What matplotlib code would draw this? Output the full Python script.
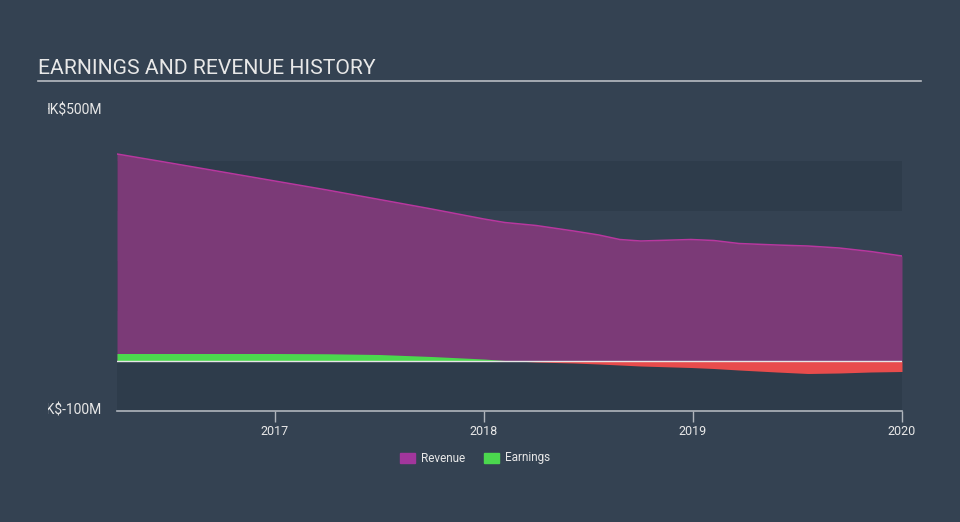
import matplotlib
matplotlib.use("Agg")
import matplotlib.pyplot as plt
from matplotlib.patches import Rectangle
from matplotlib.transforms import Bbox, TransformedBbox
import numpy as np

plt.rcParams['font.family'] = ['Roboto', 'DejaVu Sans']

# ---- data (HK$ millions) ----
dates = [2016.245, 2016.5, 2016.75, 2017.0, 2017.25, 2017.5, 2017.75, 2018.0,
         2018.1, 2018.25, 2018.43, 2018.55, 2018.65, 2018.75, 2018.99, 2019.1,
         2019.22, 2019.4, 2019.55, 2019.7, 2019.85, 2020.0]
revenue = [414, 396, 378, 360, 342, 323, 304, 284,
           277, 271, 260, 252, 243, 240, 243, 241,
           235, 232, 230, 226, 219, 210]
earnings = [15, 15, 15, 15, 14.5, 13, 9, 4,
            1, -2, -4, -6, -8, -10, -13, -15,
            -18, -22, -25, -24, -22, -21]

yticks = [-100, 500]
ytick_labels = ["HK$-100M", "HK$500M"]
xticks = [2017, 2018, 2019, 2020]
xtick_labels = ["2017", "2018", "2019", "2020"]
title = "EARNINGS AND REVENUE HISTORY"
series_names = ["Revenue", "Earnings"]

BG = "#344252"
BAND = "#2e3c4b"
REV_FILL = "#7b3a77"
REV_LINE = "#b8379f"
GREEN = "#4bd84e"
RED = "#e84c4c"
TEXT = "#e8e8e8"

W, H = 960, 522
fig = plt.figure(figsize=(W / 100, H / 100), dpi=100, facecolor=BG)
ax = fig.add_axes([117 / W, 1 - 411 / H, (902 - 117) / W, 300 / H])
ax.set_facecolor(BG)
ax.set_xlim(dates[0], dates[-1])
ax.set_ylim(-100, 500)

# alternating bands
for lo in range(-100, 500, 200):
    ax.axhspan(lo, lo + 100, color=BAND, lw=0, zorder=0)

d = np.array(dates)
r = np.array(revenue)
e = np.array(earnings)
ax.fill_between(d, 0, r, color=REV_FILL, lw=0, zorder=1)
ax.plot(d, r, color=REV_LINE, lw=1.1, zorder=3)

# earnings: fine interpolation for colour split
fd = np.linspace(d[0], d[-1], 800)
fe = np.interp(fd, d, e)
ax.fill_between(fd, 0, fe, where=fe >= 0, color=GREEN, lw=0, zorder=2, interpolate=True)
ax.fill_between(fd, 0, fe, where=fe <= 0, color=RED, lw=0, zorder=2, interpolate=True)
ax.axhline(0, color="#e6e6e6", lw=1, zorder=4)

for s in ["top", "right", "left"]:
    ax.spines[s].set_visible(False)
ax.spines["bottom"].set_color("#b0b6bd")
ax.spines["bottom"].set_linewidth(1.2)
ax.set_yticks([])
ax.set_xticks(xticks)
ax.set_xticklabels(xtick_labels)
ax.tick_params(axis="x", colors="#b0b6bd", length=8, width=1, labelcolor=TEXT,
               labelsize=9, pad=2)

# y labels, clipped at left edge like the reference
clipbox = TransformedBbox(Bbox([[48 / W, 0], [1, 1]]), fig.transFigure)
for v, lab in zip(yticks, ytick_labels):
    y = (1 - 411 / H) + (v + 100) / 600 * 300 / H
    t = fig.text(102 / W, y, lab, ha="right", va="center", color=TEXT, fontsize=10)
    t.set_clip_box(clipbox)
    t.set_clip_on(True)

# title and underline
fig.text(38 / W, 1 - 68 / H, title, ha="left", va="center", color=TEXT, fontsize=15.2)
fig.add_artist(plt.Line2D([38 / W, 921 / W], [1 - 81 / H, 1 - 81 / H],
                          color="#b8bcc2", lw=1.2, transform=fig.transFigure))

# legend
ly = 458
for name, col, x0 in [(series_names[0], "#a2369c", 400), (series_names[1], GREEN, 484)]:
    fig.add_artist(Rectangle((x0 / W, 1 - (ly + 5) / H), 15 / W, 10 / H,
                             color=col, transform=fig.transFigure))
    fig.text((x0 + 21) / W, 1 - ly / H, name, ha="left", va="center",
             color=TEXT, fontsize=8.5)

fig.savefig("out.png", dpi=100, facecolor=BG)
